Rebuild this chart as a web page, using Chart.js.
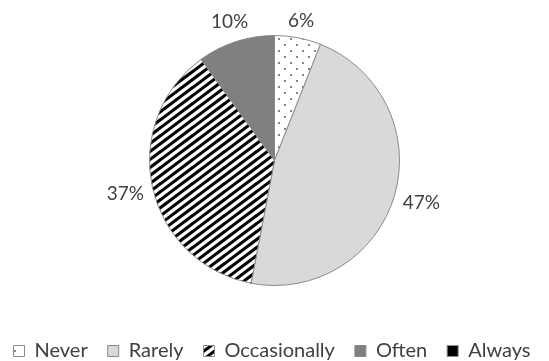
<!DOCTYPE html>
<html>
<head>
<meta charset="utf-8">
<script src="https://cdn.jsdelivr.net/npm/chart.js@4/dist/chart.umd.min.js"></script>
<style>
  html, body { margin: 0; padding: 0; background: #fff; }
</style>
</head>
<body>
<canvas id="freqChart" width="549" height="361"></canvas>
<script>
const categories = ['Never', 'Rarely', 'Occasionally', 'Often', 'Always'];
const shares = [6, 47, 37, 10, 0];
const shareLabels = ['6%', '47%', '37%', '10%', '0%'];

const FONT = 'Lato, "Open Sans", sans-serif';

// small dotted fill
function dotPattern() {
  const c = document.createElement('canvas');
  c.width = 12; c.height = 12;
  const g = c.getContext('2d');
  g.fillStyle = '#fff';
  g.fillRect(0, 0, 12, 12);
  g.fillStyle = '#505050';
  [[3, 3], [9, 9]].forEach(([x, y]) => {
    g.beginPath();
    g.arc(x, y, 0.9, 0, Math.PI * 2);
    g.fill();
  });
  return g.createPattern(c, 'repeat');
}

// wide upward diagonal stripes
function stripePattern() {
  const w = 32, h = 32, step = 8, slope = 0.75;
  const c = document.createElement('canvas');
  c.width = w; c.height = h;
  const g = c.getContext('2d');
  g.fillStyle = '#fff';
  g.fillRect(0, 0, w, h);
  g.strokeStyle = '#000';
  g.lineWidth = 3;
  for (let k = -2; k <= 10; k++) {
    const c0 = k * step;
    g.beginPath();
    g.moveTo(-4, c0 + 4 * slope);
    g.lineTo(w + 4, c0 - (w + 4) * slope);
    g.stroke();
  }
  return g.createPattern(c, 'repeat');
}

const fills = [dotPattern(), '#d9d9d9', stripePattern(), '#808080', '#000000'];

// percentage labels just outside each slice
const outsideLabels = {
  id: 'outsideLabels',
  afterDatasetsDraw(chart) {
    const ctx = chart.ctx;
    const meta = chart.getDatasetMeta(0);
    ctx.save();
    ctx.font = '19px ' + FONT;
    ctx.fillStyle = '#404040';
    ctx.textAlign = 'center';
    ctx.textBaseline = 'middle';
    meta.data.forEach((arc, i) => {
      if (!shares[i]) return;
      const mid = (arc.startAngle + arc.endAngle) / 2;
      const txt = shareLabels[i];
      const tw = ctx.measureText(txt).width;
      const th = 14;
      const cx = Math.cos(mid), cy = Math.sin(mid);
      const d = arc.outerRadius + 8 + Math.abs(cx) * tw / 2 + Math.abs(cy) * th / 2;
      ctx.fillText(txt, arc.x + cx * d, arc.y + cy * d);
    });
    ctx.restore();
  }
};

new Chart(document.getElementById('freqChart'), {
  type: 'pie',
  data: {
    labels: categories,
    datasets: [{
      data: shares,
      backgroundColor: fills,
      borderColor: '#8a8a8a',
      borderWidth: 1,
      radius: 125
    }]
  },
  options: {
    responsive: false,
    animation: false,
    events: [],
    // negative sides give the one-row legend room to spread
    layout: { padding: { top: -2, right: -15, bottom: -10, left: -20 } },
    plugins: {
      legend: {
        position: 'bottom',
        labels: {
          boxWidth: 11,
          boxHeight: 11,
          padding: 20,
          color: '#404040',
          font: { size: 20, family: FONT }
        }
      },
      tooltip: { enabled: false }
    }
  },
  plugins: [outsideLabels]
});
</script>
</body>
</html>
